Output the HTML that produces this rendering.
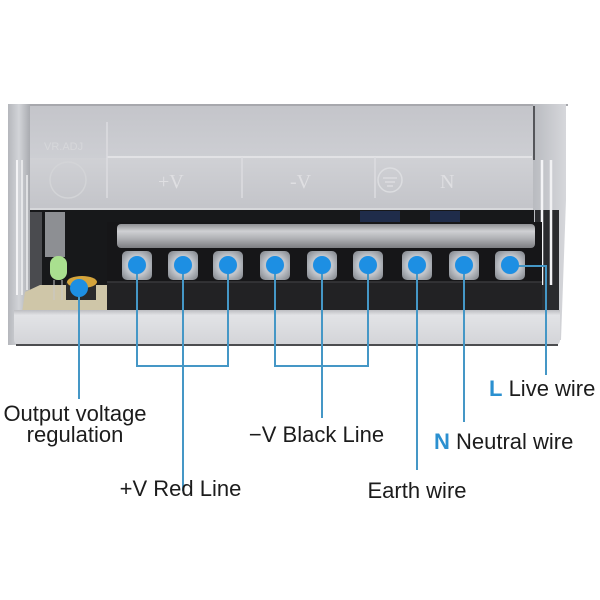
<!DOCTYPE html>
<html><head><meta charset="utf-8"><style>
html,body{margin:0;padding:0;background:#fff;}
svg{display:block;}
</style></head><body>
<svg width="600" height="600" viewBox="0 0 600 600" xmlns="http://www.w3.org/2000/svg">
<defs>
<linearGradient id="panelU" x1="0" y1="0" x2="0" y2="1">
<stop offset="0" stop-color="#c4c5ca"/><stop offset="1" stop-color="#cdced3"/></linearGradient>
<linearGradient id="panelL" x1="0" y1="0" x2="0" y2="1">
<stop offset="0" stop-color="#d0d1d5"/><stop offset="1" stop-color="#c3c4c9"/></linearGradient>
<linearGradient id="bar" x1="0" y1="0" x2="0" y2="1">
<stop offset="0" stop-color="#8e8f93"/><stop offset="0.3" stop-color="#cfd0d3"/><stop offset="0.6" stop-color="#b0b1b5"/><stop offset="1" stop-color="#7d7e82"/></linearGradient>
<linearGradient id="base" x1="0" y1="0" x2="0" y2="1">
<stop offset="0" stop-color="#bdbec2"/><stop offset="0.15" stop-color="#e2e3e6"/><stop offset="1" stop-color="#d3d4d8"/></linearGradient>
<linearGradient id="frameL" x1="0" y1="0" x2="1" y2="0">
<stop offset="0" stop-color="#b5b7bc"/><stop offset="0.5" stop-color="#d2d4d8"/><stop offset="1" stop-color="#a9abb0"/></linearGradient>
<linearGradient id="frameR" x1="0" y1="0" x2="1" y2="0">
<stop offset="0" stop-color="#b9bbc0"/><stop offset="1" stop-color="#d6d7db"/></linearGradient>
<radialGradient id="screw" cx="0.5" cy="0.5" r="0.6">
<stop offset="0" stop-color="#5d6168"/><stop offset="0.55" stop-color="#c4c8ce"/><stop offset="1" stop-color="#8f9399"/></radialGradient>
</defs>

<!-- top panel -->
<rect x="8" y="104" width="560" height="2" fill="#a7a8ad"/>
<rect x="28" y="106" width="508" height="52" fill="url(#panelU)"/>
<rect x="28" y="158" width="508" height="52" fill="url(#panelL)"/>
<line x1="107" y1="157" x2="532" y2="157" stroke="#e2e2e5" stroke-width="2"/>
<line x1="107" y1="122" x2="107" y2="198" stroke="#dcdce0" stroke-width="1.5"/>
<line x1="242" y1="157" x2="242" y2="198" stroke="#dcdce0" stroke-width="1.5"/>
<line x1="375" y1="157" x2="375" y2="198" stroke="#dcdce0" stroke-width="1.5"/>
<line x1="28" y1="209" x2="536" y2="209" stroke="#dcdde0" stroke-width="1.5"/>
<!-- embossed marks -->
<g fill="none" stroke="#dcdde0" stroke-width="1.5">
<text x="44" y="150" font-family="Liberation Sans, sans-serif" font-size="11" fill="#d6d7da" stroke="none">VR.ADJ</text>
<circle cx="68" cy="180" r="18" stroke="#d3d4d7"/>
<circle cx="390" cy="180" r="12"/>
<line x1="383" y1="178" x2="397" y2="178"/><line x1="385" y1="182" x2="395" y2="182"/><line x1="387" y1="186" x2="393" y2="186"/>
</g>
<text x="158" y="188" font-family="Liberation Serif, serif" font-size="20" fill="#dfdfe2">+V</text>
<text x="290" y="188" font-family="Liberation Serif, serif" font-size="20" fill="#dfdfe2">-V</text>
<text x="440" y="188" font-family="Liberation Serif, serif" font-size="20" fill="#dfdfe2">N</text>

<!-- left frame -->
<rect x="8" y="104" width="22" height="241" fill="url(#frameL)"/>
<line x1="17" y1="160" x2="17" y2="295" stroke="#f3f3f5" stroke-width="2"/>
<line x1="22" y1="160" x2="22" y2="295" stroke="#f0f0f2" stroke-width="1.5"/>
<line x1="27" y1="175" x2="27" y2="290" stroke="#eeeef0" stroke-width="1.5"/>

<!-- right frame -->
<polygon points="533,104 566,104 566,200 561,340 533,340" fill="url(#frameR)"/>
<line x1="534" y1="106" x2="534" y2="160" stroke="#55565a" stroke-width="2"/>
<rect x="535" y="210" width="24" height="100" fill="#2a2b2e"/>
<line x1="542" y1="160" x2="542" y2="285" stroke="#f4f4f6" stroke-width="2.5"/>
<line x1="551" y1="160" x2="551" y2="285" stroke="#f1f1f3" stroke-width="2.5"/>

<!-- dark interior -->
<rect x="30" y="210" width="504" height="100" fill="#17181a"/>
<rect x="360" y="211" width="40" height="12" fill="#1f2c4a"/>
<rect x="430" y="211" width="30" height="12" fill="#1f2c4a"/>
<!-- left interior components -->
<rect x="45" y="212" width="20" height="45" fill="#8d8f93"/>
<rect x="30" y="212" width="12" height="80" fill="#4a4b4f"/>
<polygon points="25,292 40,285 107,285 107,313 22,313" fill="#cfc6a8"/>
<rect x="50" y="256" width="17" height="24" rx="8" fill="#a9e08f"/>
<line x1="54" y1="280" x2="54" y2="300" stroke="#c8c8c8" stroke-width="1"/>
<line x1="62" y1="280" x2="62" y2="300" stroke="#c8c8c8" stroke-width="1"/>
<rect x="66" y="282" width="30" height="18" fill="#2a2a2c"/>
<ellipse cx="82" cy="282" rx="15" ry="6" fill="#d4a43c"/>

<!-- terminal block -->
<rect x="107" y="222" width="435" height="90" fill="#161618"/>
<rect x="117" y="224" width="418" height="24" rx="4" fill="url(#bar)"/>
<!-- screw row -->
<g fill="url(#screw)">
<rect x="122" y="251" width="30" height="29" rx="5"/>
<rect x="168" y="251" width="30" height="29" rx="5"/>
<rect x="213" y="251" width="30" height="29" rx="5"/>
<rect x="260" y="251" width="30" height="29" rx="5"/>
<rect x="307" y="251" width="30" height="29" rx="5"/>
<rect x="353" y="251" width="30" height="29" rx="5"/>
<rect x="402" y="251" width="30" height="29" rx="5"/>
<rect x="449" y="251" width="30" height="29" rx="5"/>
<rect x="495" y="251" width="30" height="29" rx="5"/>
</g>
<rect x="107" y="282" width="435" height="28" fill="#222224"/>
<line x1="107" y1="282" x2="542" y2="282" stroke="#38383b" stroke-width="1.5"/>

<!-- base plate -->
<path d="M14,310 L560,310 L560,340 Q560,345 554,345 L20,345 Q14,345 14,339 Z" fill="url(#base)"/>
<line x1="16" y1="345" x2="558" y2="345" stroke="#4c4d50" stroke-width="2"/>

<!-- connector lines -->
<g fill="none" stroke="#4597c6" stroke-width="2">
<line x1="79" y1="288" x2="79" y2="399"/>
<polyline points="137,265 137,366 228,366 228,265"/>
<line x1="183" y1="265" x2="183" y2="491"/>
<polyline points="275,265 275,366 368,366 368,265"/>
<line x1="322" y1="265" x2="322" y2="418"/>
<line x1="417" y1="265" x2="417" y2="470"/>
<line x1="464" y1="265" x2="464" y2="422"/>
<polyline points="510,266 546,266 546,375"/>
</g>
<!-- dots -->
<g fill="#1d8fe3">
<circle cx="79" cy="288" r="9"/>
<circle cx="137" cy="265" r="9"/>
<circle cx="183" cy="265" r="9"/>
<circle cx="228" cy="265" r="9"/>
<circle cx="275" cy="265" r="9"/>
<circle cx="322" cy="265" r="9"/>
<circle cx="368" cy="265" r="9"/>
<circle cx="417" cy="265" r="9"/>
<circle cx="464" cy="265" r="9"/>
<circle cx="510" cy="265" r="9"/>
</g>

<!-- labels -->
<g font-family="Liberation Sans, Arial, sans-serif" font-size="22" fill="#1c1c1c">
<text x="75" y="421" text-anchor="middle">Output voltage</text>
<text x="75" y="442" text-anchor="middle">regulation</text>
<text x="180.5" y="496" text-anchor="middle">+V Red Line</text>
<text x="316.5" y="442" text-anchor="middle">−V Black Line</text>
<text x="417" y="498" text-anchor="middle">Earth wire</text>
<text x="434" y="449"><tspan font-weight="bold" fill="#2b90d0">N</tspan> Neutral wire</text>
<text x="489" y="396"><tspan font-weight="bold" fill="#2b90d0">L</tspan> Live wire</text>
</g>
</svg>
</body></html>
